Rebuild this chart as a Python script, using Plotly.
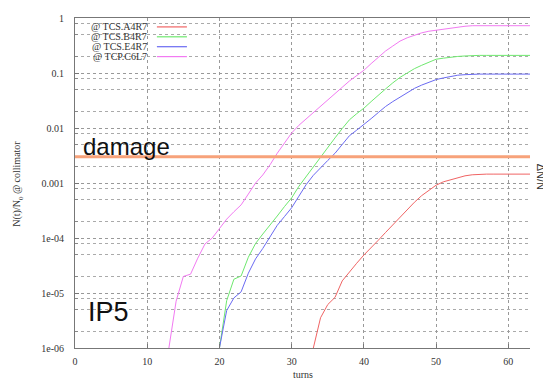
import plotly.graph_objects as go

# ---------------- data ----------------
series_names = ["@ TCS.A4R7", "@ TCS.B4R7", "@ TCS.E4R7", "@ TCP.C6L7"]

turns_a4r7 = list(range(33, 64))
vals_a4r7 = [1.0e-6, 3.55e-6, 6.17e-6, 8.32e-6, 1.66e-5, 2.45e-5, 3.47e-5, 4.90e-5,
             6.61e-5, 9.12e-5, 1.26e-4, 1.74e-4, 2.40e-4, 3.31e-4, 4.47e-4, 5.89e-4,
             7.41e-4, 9.12e-4, 1.05e-3, 1.15e-3, 1.26e-3, 1.35e-3, 1.41e-3, 1.45e-3,
             1.45e-3, 1.45e-3, 1.45e-3, 1.45e-3, 1.45e-3, 1.45e-3, 1.45e-3]

turns_b4r7 = list(range(20, 64))
vals_b4r7 = [1.0e-6, 7.24e-6, 1.78e-5, 2.04e-5, 4.47e-5, 7.94e-5, 1.18e-4, 1.70e-4,
             2.51e-4, 3.72e-4, 5.37e-4, 8.71e-4, 1.32e-3, 1.91e-3, 3.02e-3, 4.47e-3,
             6.61e-3, 9.77e-3, 1.41e-2, 1.82e-2, 2.29e-2, 3.02e-2, 3.98e-2, 5.13e-2,
             6.61e-2, 8.32e-2, 0.100, 0.120, 0.138, 0.158, 0.178, 0.186, 0.195, 0.200,
             0.204, 0.209, 0.209, 0.209, 0.209, 0.209, 0.209, 0.209, 0.209, 0.209]

turns_e4r7 = list(range(20, 64))
vals_e4r7 = [1.0e-6, 4.79e-6, 8.13e-6, 1.05e-5, 2.29e-5, 4.17e-5, 6.46e-5, 1.05e-4,
             1.70e-4, 2.45e-4, 3.55e-4, 5.75e-4, 9.33e-4, 1.38e-3, 1.91e-3, 2.57e-3,
             3.47e-3, 4.90e-3, 7.24e-3, 9.12e-3, 1.15e-2, 1.48e-2, 1.91e-2, 2.46e-2,
             3.02e-2, 3.63e-2, 4.37e-2, 5.25e-2, 6.03e-2, 6.76e-2, 7.59e-2, 8.13e-2,
             8.71e-2, 9.12e-2, 9.33e-2, 9.55e-2, 9.55e-2, 9.55e-2, 9.55e-2, 9.55e-2,
             9.55e-2, 9.55e-2, 9.55e-2, 9.55e-2]

turns_c6l7 = list(range(13, 64))
vals_c6l7 = [1.0e-6, 7.1e-6, 2.0e-5, 2.2e-5, 4.3e-5, 7.8e-5, 1.0e-4, 1.5e-4, 2.2e-4,
             3.0e-4, 4.0e-4, 6.3e-4, 1.0e-3, 1.4e-3, 2.14e-3, 3.47e-3, 5.37e-3,
             8.13e-3, 1.12e-2, 1.45e-2, 1.91e-2, 2.46e-2, 3.24e-2, 4.17e-2, 5.50e-2,
             7.16e-2, 8.91e-2, 0.112, 0.148, 0.195, 0.251, 0.309, 0.380, 0.437, 0.490,
             0.537, 0.575, 0.603, 0.631, 0.661, 0.692, 0.708, 0.724, 0.724, 0.724,
             0.724, 0.724, 0.724, 0.724, 0.724, 0.724]

damage_level = 3.0e-3
x_range = [0, 63]

x_tickvals = [0, 10, 20, 30, 40, 50, 60]
y_tickvals = [1e-6, 1e-5, 1e-4, 1e-3, 1e-2, 1e-1, 1]
y_ticktext = ["1e-06", "1e-05", "1e-04", "0.001", "0.01", "0.1", "1"]
y_minor_vals = [m * d for d in [1e-6, 1e-5, 1e-4, 1e-3, 1e-2, 1e-1] for m in (2, 5, 8)]

# ---------------- style ----------------
colors = ["#f06464", "#6ee86e", "#6a6af2", "#f27af2"]
serif = "Liberation Serif"
sans = "Liberation Sans"

fig = go.Figure()
for name, xs, ys, c in zip(series_names,
                           [turns_a4r7, turns_b4r7, turns_e4r7, turns_c6l7],
                           [vals_a4r7, vals_b4r7, vals_e4r7, vals_c6l7], colors):
    fig.add_trace(go.Scatter(x=xs, y=ys, mode="lines", name=name,
                             line=dict(color=c, width=1), showlegend=False))

# damage level line
fig.add_trace(go.Scatter(x=x_range, y=[damage_level, damage_level], mode="lines",
                         line=dict(color="#f7a27a", width=3), showlegend=False,
                         name="damage"))

fig.update_layout(
    width=543, height=381, autosize=False,
    margin=dict(l=75, r=13, t=15, b=33),
    paper_bgcolor="white", plot_bgcolor="white",
    font=dict(family=serif, size=9, color="#333333"),
)
fig.update_xaxes(
    range=x_range, tickvals=x_tickvals, ticks="inside", ticklen=4, tickcolor="#777",
    showline=True, linecolor="#777777", linewidth=1, mirror=True,
    showgrid=True, gridcolor="#999999", griddash="dot", gridwidth=1,
    zeroline=False, tickfont=dict(family=serif, size=10, color="#333"),
    ticklabelstandoff=4,
)
fig.update_yaxes(
    type="log", range=[-6, 0], tickvals=y_tickvals, ticktext=y_ticktext,
    ticks="inside", ticklen=4, tickcolor="#777",
    showline=True, linecolor="#777777", linewidth=1, mirror=False,
    showgrid=True, gridcolor="#999999", griddash="dot", gridwidth=1,
    minor=dict(tickvals=y_minor_vals, showgrid=True, gridcolor="#aaaaaa",
               griddash="dot", gridwidth=1, ticks="inside", ticklen=3, tickcolor="#888"),
    zeroline=False, tickfont=dict(family=serif, size=10, color="#333"),
    ticklabelstandoff=8,
)

# legend (text left of line sample, like gnuplot)
legend_y = [0.973, 0.943, 0.913, 0.883]
for name, c, ly in zip(series_names, colors, legend_y):
    fig.add_annotation(xref="paper", yref="paper", x=0.162, y=ly, text=name,
                       showarrow=False, xanchor="right", yanchor="middle",
                       font=dict(family=serif, size=10, color="#333"))
    fig.add_shape(type="line", xref="paper", yref="paper", x0=0.180, x1=0.246,
                  y0=ly, y1=ly, layer="above", line=dict(color=c, width=1.2))

# axis titles
fig.add_annotation(xref="paper", yref="paper", x=0.50, y=-0.081, text="turns",
                   showarrow=False, xanchor="center", yanchor="middle",
                   font=dict(family=serif, size=10, color="#333"))
fig.add_annotation(xref="paper", yref="paper", x=-0.125, y=0.498,
                   text="N(t)/N<sub>0</sub> @ collimator", textangle=-90,
                   showarrow=False, xanchor="center", yanchor="middle",
                   font=dict(family=serif, size=10, color="#333"))
fig.add_annotation(xref="paper", yref="paper", x=1.006, y=0.52, text="ΔN/N",
                   textangle=90, showarrow=False, xanchor="left", yanchor="middle",
                   font=dict(family=sans, size=11, color="#333"))

# big labels
fig.add_annotation(xref="paper", yref="paper", x=0.013, y=0.612, text="damage",
                   showarrow=False, xanchor="left", yanchor="middle",
                   font=dict(family=sans, size=24, color="#111"))
fig.add_annotation(xref="paper", yref="paper", x=0.024, y=0.108, text="IP5",
                   showarrow=False, xanchor="left", yanchor="middle",
                   font=dict(family=sans, size=27, color="#111"))

fig.write_html("out.html", config={"displayModeBar": False},
               post_script="document.body.style.margin='0';document.body.style.padding='0';")
